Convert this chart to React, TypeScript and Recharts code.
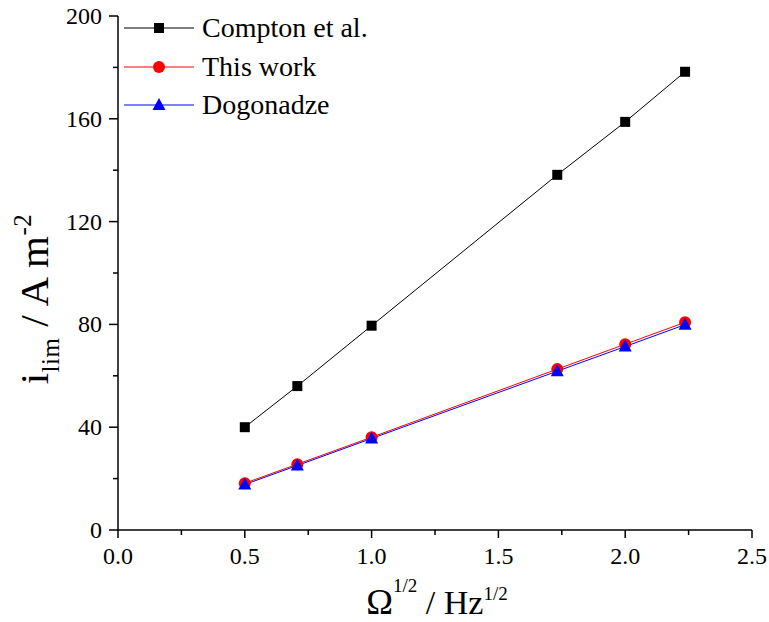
import { LineChart, Line, XAxis, YAxis, Legend, Label } from "recharts"

// Ω^1/2 values (sqrt of rotation rate)
const omegaSqrt = [0.5, 0.7071, 1.0, 1.7321, 2.0, 2.2361]
const compton = [40, 56, 79.5, 138.2, 158.8, 178.3]
const thisWork = [18.2, 25.6, 36.1, 62.6, 72.3, 80.8]
const dogonadze = [17.7, 25.1, 35.6, 61.8, 71.4, 79.9]

const xTicks = [0, 0.25, 0.5, 0.75, 1, 1.25, 1.5, 1.75, 2, 2.25, 2.5]
const yTicks = [0, 20, 40, 60, 80, 100, 120, 140, 160, 180, 200]

const seriesNames = ["Compton et al.", "This work", "Dogonadze"]
const seriesColors = ["#000000", "#ff0000", "#0000ff"]

const data = omegaSqrt.map((x, i) => ({
  x,
  compton: compton[i],
  thisWork: thisWork[i],
  dogonadze: dogonadze[i],
}))

const FONT = "'Liberation Serif', 'DejaVu Serif', serif"

const Marker = ({ kind, cx, cy, color }: { kind: number; cx: number; cy: number; color: string }) => {
  if (kind === 0) return <rect x={cx - 5} y={cy - 5} width={10} height={10} fill={color} />
  if (kind === 1) return <circle cx={cx} cy={cy} r={6} fill={color} />
  return <polygon points={`${cx},${cy - 7} ${cx + 6.5},${cy + 5} ${cx - 6.5},${cy + 5}`} fill={color} />
}

const makeDot = (kind: number) => (props: any) => {
  const { cx, cy, index } = props
  if (cx == null || cy == null) return <g key={index} />
  return (
    <g key={`d-${kind}-${index}`}>
      <Marker kind={kind} cx={cx} cy={cy} color={seriesColors[kind]} />
    </g>
  )
}

const XTick = (props: any) => {
  const { x, y, payload } = props
  const v = payload.value
  const major = Math.abs(v * 2 - Math.round(v * 2)) < 1e-6
  return (
    <g>
      <line x1={x} x2={x} y1={y} y2={y + (major ? 8 : 5)} stroke="#000" strokeWidth={1.5} />
      {major && (
        <text x={x} y={y + 34} textAnchor="middle" fontSize={24} fontFamily={FONT} fill="#000">
          {v.toFixed(1)}
        </text>
      )}
    </g>
  )
}

const YTick = (props: any) => {
  const { x, y, payload } = props
  const v = payload.value
  const major = v % 40 === 0
  return (
    <g>
      <line x1={x - (major ? 9 : 5)} x2={x} y1={y} y2={y} stroke="#000" strokeWidth={1.5} />
      {major && (
        <text x={x - 16} y={y + 8} textAnchor="end" fontSize={24} fontFamily={FONT} fill="#000">
          {v}
        </text>
      )}
    </g>
  )
}

const YTitle = () => (
  <text
    x={48}
    y={299}
    transform="rotate(-90, 48, 299)"
    textAnchor="middle"
    fontFamily={FONT}
    fontSize={41}
    letterSpacing={0.5}
    fill="#000"
  >
    <tspan>i</tspan>
    <tspan fontSize={25} dy={11}>lim</tspan>
    <tspan dy={-11}> / A m</tspan>
    <tspan fontSize={25} dy={-17}>-2</tspan>
  </text>
)

const XTitle = () => (
  <text x={437} y={614} textAnchor="middle" fontFamily={FONT} fontSize={34} fill="#000">
    <tspan fontSize={36}>Ω</tspan>
    <tspan fontSize={19} dy={-22}>1/2</tspan>
    <tspan dy={22}> / Hz</tspan>
    <tspan fontSize={19} dy={-14}>1/2</tspan>
  </text>
)

const LegendBox = () => (
  <div style={{ fontFamily: FONT, fontSize: 28, lineHeight: "38.5px", color: "#000" }}>
    {seriesNames.map((name, i) => (
      <div key={name} style={{ display: "flex", alignItems: "center", height: 38.5 }}>
        <svg width={78} height={20} style={{ display: "block" }}>
          <line x1={0} x2={70} y1={10} y2={10} stroke={seriesColors[i]} strokeWidth={1} />
          <Marker kind={i} cx={35} cy={10} color={seriesColors[i]} />
        </svg>
        <span>{name}</span>
      </div>
    ))}
  </div>
)

export default function App() {
  return (
    <div style={{ position: "absolute", left: 0, top: 0, width: 769, height: 622, background: "#fff" }}>
      <LineChart width={769} height={622} data={data} margin={{ top: 16, right: 17, left: 0, bottom: 0 }}>
        <XAxis
          type="number"
          dataKey="x"
          domain={[0, 2.5]}
          ticks={xTicks}
          interval={0}
          height={92}
          tickSize={0}
          tickMargin={0}
          tick={<XTick />}
          stroke="#000"
          strokeWidth={1.5}
        >
          <Label content={<XTitle />} />
        </XAxis>
        <YAxis
          type="number"
          domain={[0, 200]}
          ticks={yTicks}
          interval={0}
          width={118}
          tickSize={0}
          tickMargin={0}
          tick={<YTick />}
          stroke="#000"
          strokeWidth={1.5}
        >
          <Label content={<YTitle />} />
        </YAxis>
        <Legend
          layout="vertical"
          align="center"
          verticalAlign="middle"
          content={<LegendBox />}
          wrapperStyle={{ position: "absolute", left: 124, top: 9, width: "auto", height: "auto" }}
        />
        <Line
          dataKey="compton"
          name={seriesNames[0]}
          stroke={seriesColors[0]}
          strokeWidth={1}
          dot={makeDot(0)}
          isAnimationActive={false}
        />
        <Line
          dataKey="thisWork"
          name={seriesNames[1]}
          stroke={seriesColors[1]}
          strokeWidth={1}
          dot={makeDot(1)}
          isAnimationActive={false}
        />
        <Line
          dataKey="dogonadze"
          name={seriesNames[2]}
          stroke={seriesColors[2]}
          strokeWidth={1}
          dot={makeDot(2)}
          isAnimationActive={false}
        />
      </LineChart>
    </div>
  )
}
